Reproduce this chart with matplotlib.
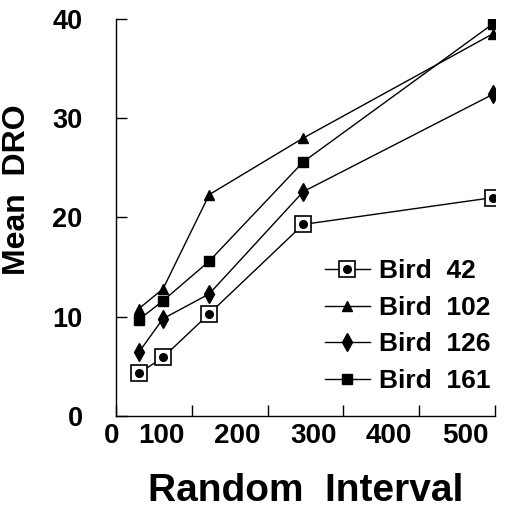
import matplotlib
matplotlib.use("Agg")
import matplotlib.pyplot as plt
import matplotlib.transforms as mtransforms
from matplotlib.legend_handler import HandlerTuple

plt.rcParams['font.family'] = ['Liberation Sans', 'DejaVu Sans']
plt.rcParams['font.weight'] = 'bold'

# random interval schedule values and mean DRO per bird
ri = [30, 62, 123, 247, 497]
bird_42 = [4.3, 5.9, 10.3, 19.3, 22.0]
bird_102 = [10.8, 12.8, 22.3, 28.0, 38.5]
bird_126 = [6.4, 9.8, 12.3, 22.6, 32.4]
bird_161 = [9.7, 11.6, 15.6, 25.6, 39.5]
x_ticks = [0, 100, 200, 300, 400, 500]
y_ticks = [0, 10, 20, 30, 40]

fig = plt.figure(figsize=(5.2, 5.12), dpi=100)
ax = fig.add_axes([0.223, 0.1875, 0.729, 0.7755])

lw = 1.0
sq, = ax.plot(ri, bird_42, color='black', lw=lw, marker='s', ms=11.5,
              mfc='white', mec='black', mew=1.2, zorder=3)
dot, = ax.plot(ri, bird_42, ls='none', marker='o', ms=5.5, color='black', zorder=4)
h102, = ax.plot(ri, bird_102, color='black', lw=lw, marker='^', ms=7, zorder=3)
h126, = ax.plot(ri, bird_126, color='black', lw=lw, marker='d', ms=9, zorder=3)
h161, = ax.plot(ri, bird_161, color='black', lw=lw, marker='s', ms=7, zorder=3)

ax.set_xlim(0, 500)
ax.set_ylim(0, 40)
ax.set_xticks(x_ticks)
ax.set_yticks(y_ticks)
ax.spines['top'].set_visible(False)
ax.spines['right'].set_visible(False)
for s in ('left', 'bottom'):
    ax.spines[s].set_linewidth(1.0)
ax.tick_params(axis='x', direction='in', length=8, width=1, labelsize=20, pad=5)
ax.tick_params(axis='y', direction='in', length=8, width=1, labelsize=19.5, pad=24)

# the x tick numbers sit a little left of their ticks
for val, lab in zip(x_ticks, ax.get_xticklabels()):
    dx = -4 if val == 0 else -30
    lab.set_transform(lab.get_transform() +
                      mtransforms.ScaledTranslation(dx / 100, 0, fig.dpi_scale_trans))

ax.set_xlabel('Random  Interval', fontsize=28, fontweight='bold', labelpad=17)
ax.set_ylabel('Mean  DRO', fontsize=23, fontweight='bold', va='center')
ax.yaxis.set_label_coords(-0.261, 0.57)

leg = ax.legend([(sq, dot), h102, h126, h161],
                ['Bird  42', 'Bird  102', 'Bird  126', 'Bird  161'],
                handler_map={tuple: HandlerTuple(ndivide=1, pad=0)},
                loc='upper left', bbox_to_anchor=(0.551, 0.395),
                frameon=False, fontsize=19, handlelength=1.7,
                handletextpad=0.35, labelspacing=0.48,
                borderaxespad=0, borderpad=0)

fig.savefig('out.png', dpi=100)
